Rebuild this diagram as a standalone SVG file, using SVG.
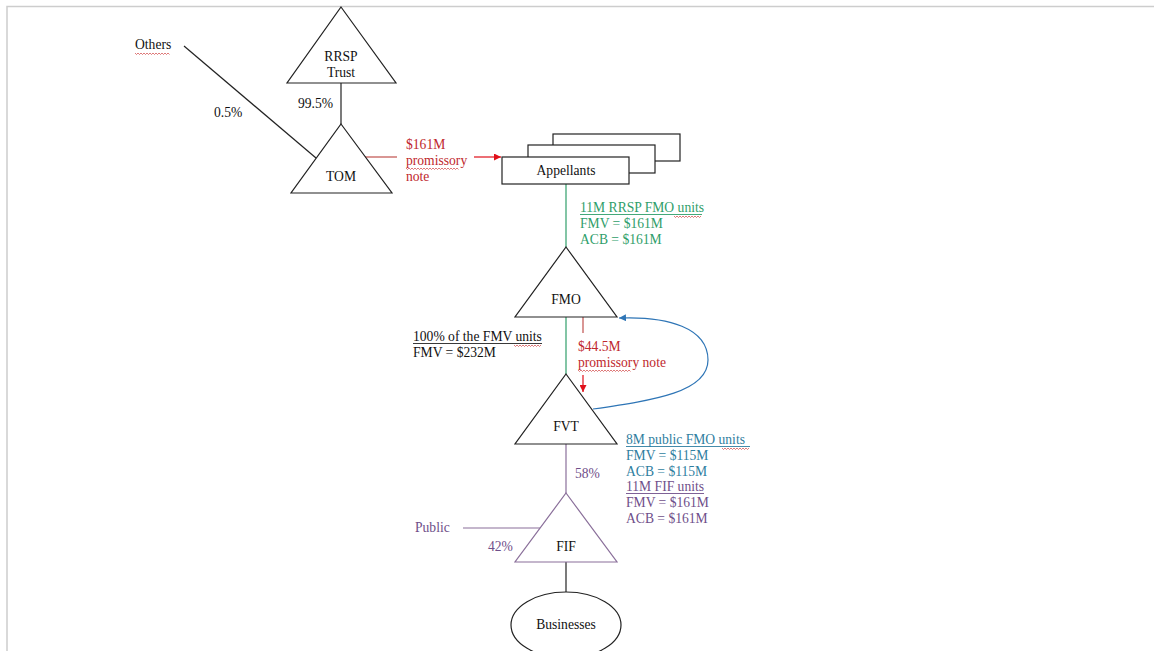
<svg xmlns="http://www.w3.org/2000/svg" width="1154" height="651" viewBox="0 0 1154 651">
<style>
text{font-family:"Liberation Serif","Times New Roman",serif;font-size:13.6px;fill:#111}
.c{text-anchor:middle}
.shape{fill:#fff;stroke:#222;stroke-width:1.2}
.ln{stroke:#222;stroke-width:1.2;fill:none}
.red{fill:#c0282d}
.green{fill:#2f9e6a}
.blue{fill:#2f7ea0}
.purple{fill:#6f4f8a}
.sq{fill:none;stroke:#d04040;stroke-width:0.7}
</style>
<defs>
<marker id="ahRed" viewBox="0 0 10 10" refX="10" refY="5" markerWidth="7" markerHeight="7" orient="auto" markerUnits="userSpaceOnUse"><path d="M0,0L10,5L0,10z" fill="#e0101a"/></marker>
<marker id="ahBlue" viewBox="0 0 10 10" refX="10" refY="5" markerWidth="7" markerHeight="7" orient="auto" markerUnits="userSpaceOnUse"><path d="M0,0L10,5L0,10z" fill="#2e75b6"/></marker>
</defs>
<rect width="1154" height="651" fill="#fff"/>
<path d="M7,651V6.5H1154" fill="none" stroke="#cdcdcd" stroke-width="1.5"/>

<g id="connectors">
<line class="ln" x1="184" y1="46" x2="316" y2="158"/>
<line class="ln" x1="341" y1="83" x2="341" y2="124"/>
<line x1="365" y1="157" x2="397" y2="157" stroke="#c0504d" stroke-width="1.2"/>
<line x1="474" y1="157" x2="501" y2="157" stroke="#e0101a" stroke-width="1.2" marker-end="url(#ahRed)"/>
<line x1="566" y1="184" x2="566" y2="247" stroke="#2f9e6a" stroke-width="1.2"/>
<line x1="566" y1="317" x2="566" y2="374" stroke="#2f9e6a" stroke-width="1.2"/>
<line x1="583" y1="317" x2="583" y2="333" stroke="#c0504d" stroke-width="1.2"/>
<line x1="583" y1="375" x2="583" y2="392" stroke="#e0101a" stroke-width="1.2" marker-end="url(#ahRed)"/>
<path d="M593,409 C655,400 708,392 708,360 C708,328 668,316 619,318" fill="none" stroke="#2e75b6" stroke-width="1.2" marker-end="url(#ahBlue)"/>
<line x1="566" y1="444" x2="566" y2="493" stroke="#8a6f9a" stroke-width="1.2"/>
<line x1="463" y1="528" x2="540" y2="528" stroke="#8a6f9a" stroke-width="1.2"/>
<line class="ln" x1="566" y1="562" x2="566" y2="592"/>
</g>

<g id="others"><text x="135" y="49">Others</text><path class="sq" d="M135,53l1.5,1.5l1.5,-1.5l1.5,1.5l1.5,-1.5l1.5,1.5l1.5,-1.5l1.5,1.5l1.5,-1.5l1.5,1.5l1.5,-1.5l1.5,1.5l1.5,-1.5l1.5,1.5l1.5,-1.5l1.5,1.5l1.5,-1.5l1.5,1.5l1.5,-1.5l1.5,1.5l1.5,-1.5l1.5,1.5l1.5,-1.5l1.5,1.5"/></g>
<g id="rrsp-trust"><polygon class="shape" points="341,7 396,83 287,83"/><text class="c" x="341" y="61">RRSP</text><text class="c" x="341" y="77">Trust</text></g>
<g id="tom"><polygon class="shape" points="341,124 392,193 291,193"/><text class="c" x="341" y="181">TOM</text></g>
<g id="labels-top"><text x="298" y="108">99.5%</text><text x="214" y="117">0.5%</text>
<text class="red" x="406" y="149">$161M</text><text class="red" x="406" y="165">promissory</text><text class="red" x="406" y="181">note</text>
<path class="sq" d="M406,168l1.5,1.5l1.5,-1.5l1.5,1.5l1.5,-1.5l1.5,1.5l1.5,-1.5l1.5,1.5l1.5,-1.5l1.5,1.5l1.5,-1.5l1.5,1.5l1.5,-1.5l1.5,1.5l1.5,-1.5l1.5,1.5l1.5,-1.5l1.5,1.5l1.5,-1.5l1.5,1.5l1.5,-1.5l1.5,1.5l1.5,-1.5l1.5,1.5l1.5,-1.5l1.5,1.5l1.5,-1.5l1.5,1.5l1.5,-1.5l1.5,1.5l1.5,-1.5l1.5,1.5l1.5,-1.5l1.5,1.5l1.5,-1.5l1.5,1.5"/></g>
<g id="appellants">
<rect class="shape" x="553" y="134" width="127" height="27"/>
<rect class="shape" x="528" y="145" width="127" height="28"/>
<rect class="shape" x="502" y="157" width="127" height="27"/>
<text class="c" x="566" y="175">Appellants</text></g>
<g id="green-label">
<text class="green" x="580" y="212">11M RRSP FMO units</text><line x1="580" y1="214.5" x2="702" y2="214.5" stroke="#2f9e6a" stroke-width="0.9"/>
<path class="sq" d="M674,216l1.5,1.5l1.5,-1.5l1.5,1.5l1.5,-1.5l1.5,1.5l1.5,-1.5l1.5,1.5l1.5,-1.5l1.5,1.5l1.5,-1.5l1.5,1.5l1.5,-1.5l1.5,1.5l1.5,-1.5l1.5,1.5l1.5,-1.5l1.5,1.5l1.5,-1.5"/>
<text class="green" x="580" y="228">FMV = $161M</text><text class="green" x="580" y="244">ACB = $161M</text></g>
<g id="fmo"><polygon class="shape" points="566,247 617,317 515,317"/><text class="c" x="566" y="304">FMO</text></g>
<g id="fmv-label">
<text x="413" y="341">100% of the FMV units</text><line x1="413" y1="343.5" x2="542" y2="343.5" stroke="#222" stroke-width="0.9"/>
<path class="sq" d="M514,345l1.5,1.5l1.5,-1.5l1.5,1.5l1.5,-1.5l1.5,1.5l1.5,-1.5l1.5,1.5l1.5,-1.5l1.5,1.5l1.5,-1.5l1.5,1.5l1.5,-1.5l1.5,1.5l1.5,-1.5l1.5,1.5l1.5,-1.5l1.5,1.5l1.5,-1.5"/>
<text x="413" y="357">FMV = $232M</text></g>
<g id="note-label">
<text class="red" x="578" y="351">$44.5M</text><text class="red" x="578" y="367">promissory note</text>
<path class="sq" d="M578,370l1.5,1.5l1.5,-1.5l1.5,1.5l1.5,-1.5l1.5,1.5l1.5,-1.5l1.5,1.5l1.5,-1.5l1.5,1.5l1.5,-1.5l1.5,1.5l1.5,-1.5l1.5,1.5l1.5,-1.5l1.5,1.5l1.5,-1.5l1.5,1.5l1.5,-1.5l1.5,1.5l1.5,-1.5l1.5,1.5l1.5,-1.5l1.5,1.5l1.5,-1.5l1.5,1.5l1.5,-1.5l1.5,1.5l1.5,-1.5l1.5,1.5l1.5,-1.5l1.5,1.5l1.5,-1.5l1.5,1.5l1.5,-1.5l1.5,1.5"/></g>
<g id="fvt"><polygon class="shape" points="566,374 617,444 515,444"/><text class="c" x="566" y="431">FVT</text></g>
<g id="blue-label">
<text class="blue" x="626" y="444">8M public FMO units</text><line x1="626" y1="446.5" x2="750" y2="446.5" stroke="#2f7ea0" stroke-width="0.9"/>
<path class="sq" d="M722,448l1.5,1.5l1.5,-1.5l1.5,1.5l1.5,-1.5l1.5,1.5l1.5,-1.5l1.5,1.5l1.5,-1.5l1.5,1.5l1.5,-1.5l1.5,1.5l1.5,-1.5l1.5,1.5l1.5,-1.5l1.5,1.5l1.5,-1.5l1.5,1.5l1.5,-1.5"/>
<text class="blue" x="626" y="460">FMV = $115M</text><text class="blue" x="626" y="476">ACB = $115M</text></g>
<g id="purple-label">
<text class="purple" x="626" y="491">11M FIF units</text><line x1="626" y1="493.5" x2="704" y2="493.5" stroke="#6f4f8a" stroke-width="0.9"/>
<text class="purple" x="626" y="507">FMV = $161M</text><text class="purple" x="626" y="523">ACB = $161M</text>
<text class="purple" x="575" y="478">58%</text>
<text class="purple" x="415" y="532">Public</text>
<text class="purple" x="488" y="551">42%</text></g>
<g id="fif"><polygon points="566,493 617,562 515,562" fill="#fff" stroke="#8a6f9a" stroke-width="1.2"/><text class="c" x="566" y="551">FIF</text></g>
<g id="businesses"><ellipse class="shape" cx="566" cy="625" rx="55" ry="33"/><text class="c" x="566" y="629">Businesses</text></g>
</svg>
